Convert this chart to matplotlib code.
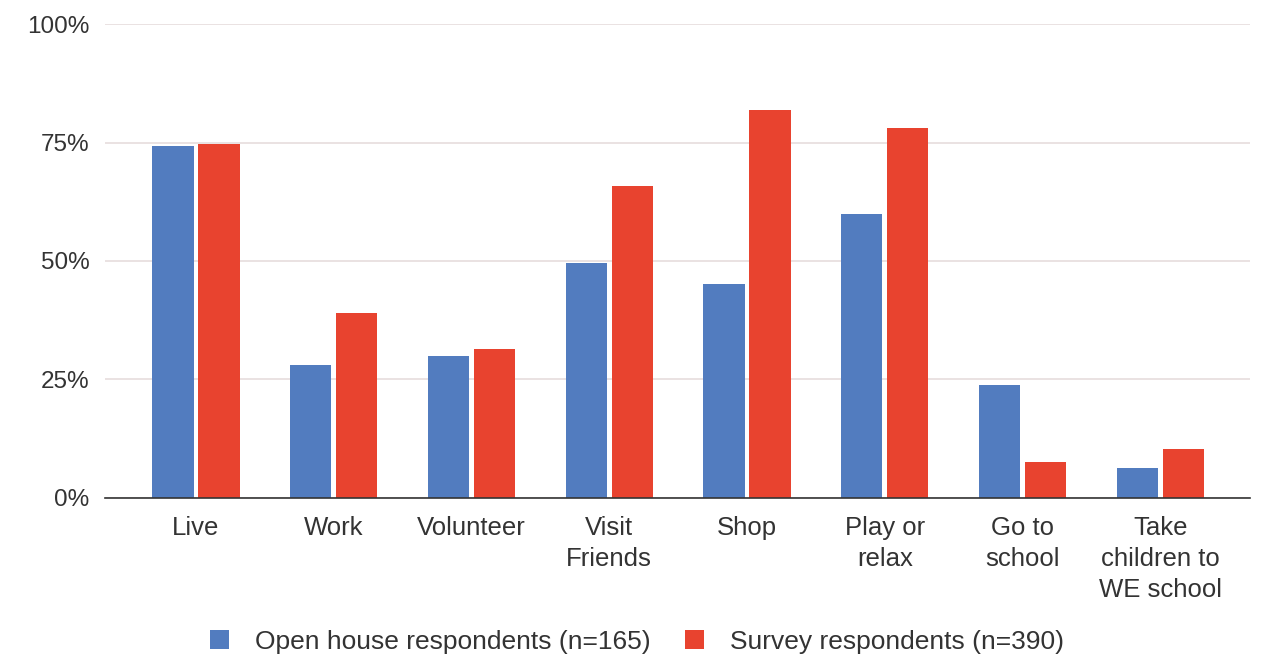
import matplotlib
matplotlib.use("Agg")
import matplotlib.pyplot as plt
import numpy as np

categories = ["Live", "Work", "Volunteer", "Visit\nFriends", "Shop",
              "Play or\nrelax", "Go to\nschool", "Take\nchildren to\nWE school"]
open_house = [74.2, 28.0, 30.0, 49.5, 45.2, 59.9, 23.7, 6.2]
survey = [74.7, 39.0, 31.4, 65.8, 81.9, 78.2, 7.6, 10.3]
series_names = ["Open house respondents (n=165)", "Survey respondents (n=390)"]
yticks = [0, 25, 50, 75, 100]
ytick_labels = ["0%", "25%", "50%", "75%", "100%"]

BLUE = "#527cbf"
RED = "#e8432f"
TXT = "#333333"

plt.rcParams['font.family'] = ['Liberation Sans', 'DejaVu Sans']

fig = plt.figure(figsize=(12.74, 6.6), dpi=100)
ax = fig.add_axes([0.0824, 0.2462, 0.8986, 0.7168])

x = np.arange(len(categories))
w = 0.30
off = 0.167
ax.bar(x - off, open_house, width=w, color=BLUE, label=series_names[0], zorder=3)
ax.bar(x + off, survey, width=w, color=RED, label=series_names[1], zorder=3)

ax.set_xlim(-0.66, 7.65)
ax.set_ylim(0, 100)
ax.set_yticks(yticks)
ax.set_yticklabels(ytick_labels)
ax.set_xticks(x)
ax.set_xticklabels(categories, linespacing=1.37)

ax.grid(axis='y', color='#e8dfdf', linewidth=1.3, zorder=0)
for s in ['top', 'right', 'left']:
    ax.spines[s].set_visible(False)
ax.spines['bottom'].set_color('#333333')
ax.spines['bottom'].set_linewidth(1.2)
ax.spines['bottom'].set_zorder(4)
ax.tick_params(axis='y', length=0, labelsize=17.5, colors=TXT, pad=11)
ax.tick_params(axis='x', length=0, labelsize=18.5, colors=TXT, pad=13)

fig.legend(loc='center', bbox_to_anchor=(0.5, 0.028), ncol=2, frameon=False,
           fontsize=19, handlelength=0.72, handleheight=0.75, columnspacing=1.3,
           handletextpad=1.0, labelcolor=TXT)

fig.savefig("out.png", dpi=100)
